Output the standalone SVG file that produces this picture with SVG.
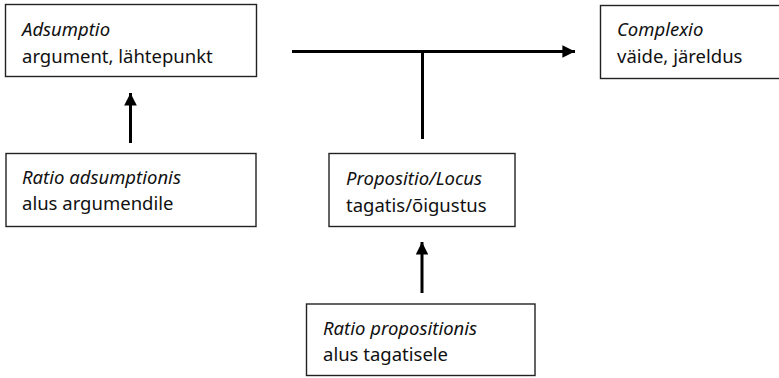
<svg xmlns="http://www.w3.org/2000/svg" width="779" height="378" viewBox="0 0 779 378">
<style>
.box{fill:#fff;stroke:#222;stroke-width:1.4}
text{font-family:"Noto Sans","Open Sans",sans-serif;font-size:18.5px;fill:#111}
.it{font-style:italic}
.ln{stroke:#000;stroke-width:3;fill:none}
</style>
<defs>
<marker id="ah" viewBox="0 0 10 10" refX="10" refY="5" markerWidth="6" markerHeight="4.2" orient="auto" markerUnits="strokeWidth">
<path d="M0,0 L10,5 L0,10 z" fill="#000"/>
</marker>
</defs>
<g id="connectors">
<line class="ln" x1="292" y1="51.5" x2="575" y2="51.5" marker-end="url(#ah)"/>
<line class="ln" x1="422.5" y1="51.5" x2="422.5" y2="139"/>
<line class="ln" x1="130.5" y1="143" x2="130.5" y2="93" marker-end="url(#ah)"/>
<line class="ln" x1="422" y1="293" x2="422" y2="242" marker-end="url(#ah)"/>
</g>
<g id="adsumptio">
<rect class="box" x="5.5" y="4.5" width="251" height="72"/>
<text x="22" y="36" class="it">Adsumptio</text>
<text x="22" y="63">argument, lähtepunkt</text>
</g>
<g id="complexio">
<rect class="box" x="600.5" y="5.5" width="190" height="73"/>
<text x="617" y="36" class="it">Complexio</text>
<text x="617" y="63">väide, järeldus</text>
</g>
<g id="ratio-adsumptionis">
<rect class="box" x="6" y="153.5" width="250" height="73"/>
<text x="22" y="184" class="it">Ratio adsumptionis</text>
<text x="22" y="210">alus argumendile</text>
</g>
<g id="propositio">
<rect class="box" x="329" y="153.5" width="186" height="73"/>
<text x="346" y="185" class="it">Propositio/Locus</text>
<text x="346" y="212">tagatis/õigustus</text>
</g>
<g id="ratio-propositionis">
<rect class="box" x="306.5" y="304" width="228.5" height="71.5"/>
<text x="323" y="335" class="it">Ratio propositionis</text>
<text x="323" y="361">alus tagatisele</text>
</g>
</svg>
